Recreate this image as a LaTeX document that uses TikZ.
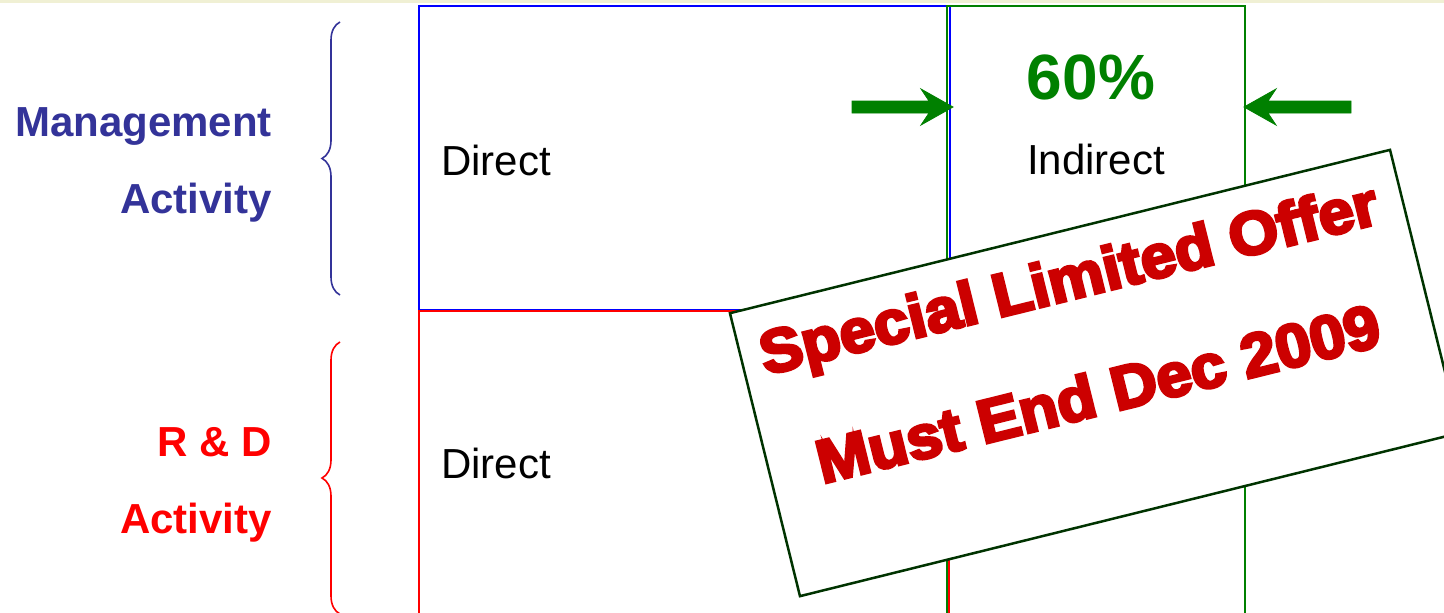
\documentclass[tikz,border=0pt]{standalone}
\usepackage{fontspec}
\setmainfont{Liberation Sans}
\newfontfamily\offerfont[FakeBold=5]{Liberation Sans}
\usetikzlibrary{decorations.pathreplacing}
\definecolor{mblue}{RGB}{51,51,153}
\definecolor{rdred}{RGB}{255,0,0}
\definecolor{boxblue}{RGB}{0,0,255}
\definecolor{boxgreen}{RGB}{0,128,0}
\definecolor{offerred}{RGB}{204,0,0}
\definecolor{offerline}{RGB}{0,51,0}
\definecolor{topband}{RGB}{240,240,212}
\tikzset{
  lbl/.style={inner sep=0pt, anchor=base east, font=\fontsize{42}{50}\selectfont\bfseries},
  celltext/.style={inner sep=0pt, font=\fontsize{42}{50}\selectfont},
  bracestyle/.style={decorate, decoration={brace, amplitude=18pt}, line width=1.6pt},
  bigarrow/.style={fill=boxgreen, draw=boxgreen, line width=0.8pt, line join=miter},
  offerbox/.style={draw=offerline, line width=2.5pt, fill=white, rotate=13.9, minimum width=680pt, minimum height=291.5pt, inner sep=0pt},
  offertext/.style={inner sep=0pt, anchor=base, rotate=13.9, xscale=1.04, text=offerred, font=\offerfont\fontsize{61}{70}\selectfont\bfseries}
}
\begin{document}
\begin{tikzpicture}[x=1pt, y=-1pt]
\useasboundingbox (0,0) rectangle (1444,613);
\fill[white] (0,0) rectangle (1444,613);
\fill[topband] (0,0) rectangle (1444,2.5);

% cells
\draw[boxblue, line width=2pt] (419,6) rectangle (949.5,310);
\draw[rdred, line width=2pt] (419,310.5) rectangle (949,625);
\draw[boxgreen, line width=2pt] (947,6) rectangle (1245,625);

% left labels
\node[lbl, text=mblue] (mgmt) at (272,136) {Management};
\node[lbl, text=mblue] (mact) at (272,213) {Activity};
\node[lbl, text=rdred] (rd) at (272,456) {R \& D};
\node[lbl, text=rdred] (ract) at (272,533) {Activity};

% braces
\coordinate (b1s) at (340,295);
\coordinate (b1e) at (340,22);
\coordinate (b2s) at (340,614);
\coordinate (b2e) at (340,342);
\draw[bracestyle, mblue] (b1s) -- (b1e);
\draw[bracestyle, rdred] (b2s) -- (b2e);

% cell texts
\node[celltext, anchor=base west] (d1) at (441,175) {Direct};
\node[celltext, anchor=base west] (d2) at (441,478) {Direct};
\node[celltext, anchor=base] (ind) at (1096,174) {Indirect};
\node[inner sep=0pt, anchor=base, text=boxgreen, font=\fontsize{64}{70}\selectfont\bfseries] (pct) at (1091,99) {60\%};

% arrows (block arrows pointing at the indirect cell)
\coordinate (la0) at (852,107);
\coordinate (ra0) at (1351,107);
\filldraw[bigarrow] (la0) ++(0,-6) -- ++(77,0) -- ++(-8,-12) -- ++(32,18)
  -- ++(-32,18) -- ++(8,-12) -- ++(-77,0) -- cycle;
\filldraw[bigarrow] (ra0) ++(0,-6) -- ++(-83,0) -- ++(8,-12) -- ++(-32,18)
  -- ++(32,18) -- ++(-8,-12) -- ++(83,0) -- cycle;

% offer stamp
\node[offerbox] (offer) at (1095,373) {};
\begin{scope}[shift={(1095,373)}, rotate=13.9]
  \node[offertext] (o1) at (-3,-77) {Special Limited Offer};
  \node[offertext] (o2) at (-2,42) {Must End Dec 2009};
\end{scope}
\end{tikzpicture}
\end{document}
